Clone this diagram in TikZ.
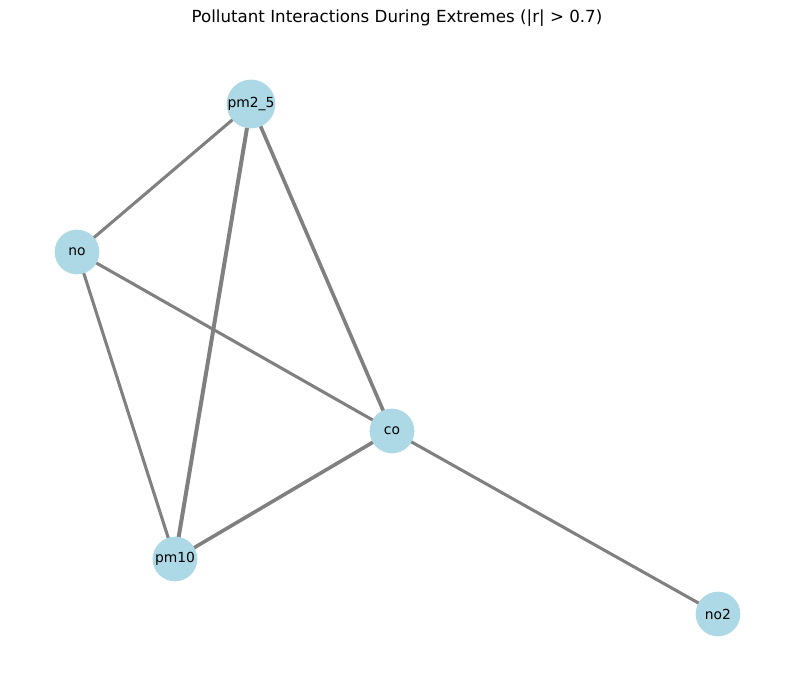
\documentclass[tikz,border=0pt]{standalone}
\usepackage{fontspec}
\setmainfont{DejaVu Sans}
\definecolor{nodeblue}{HTML}{ADD8E6}
\definecolor{edgegray}{HTML}{808080}
\begin{document}
\begin{tikzpicture}[x=0.75pt,y=-0.75pt,
  vtx/.style={circle,fill=nodeblue,minimum size=33.5pt,inner sep=0pt,font=\fontsize{10.4}{12}\selectfont},
  edg/.style={draw=edgegray,line width=2.3pt},
  edgthick/.style={draw=edgegray,line width=2.7pt},
  edgthickest/.style={draw=edgegray,line width=3pt}]
\useasboundingbox (0,0) rectangle (794,677);
\node[font=\fontsize{12.5}{15}\selectfont] (title) at (397,18) {Pollutant Interactions During Extremes (|r| > 0.7)};
\coordinate (cpm25) at (251,104);
\coordinate (cno) at (77,252);
\coordinate (cco) at (392,431);
\coordinate (cpm10) at (175,559);
\coordinate (cno2) at (718,614);
\draw[edg] (cpm25) -- (cno);
\draw[edgthickest] (cpm25) -- (cpm10);
\draw[edgthick] (cpm25) -- (cco);
\draw[edg] (cno) -- (cco);
\draw[edg] (cno) -- (cpm10);
\draw[edgthick] (cco) -- (cpm10);
\draw[edg] (cco) -- (cno2);
\node[vtx] (pm25) at (cpm25) {pm2\_5};
\node[vtx] (no) at (cno) {no};
\node[vtx] (co) at (cco) {co};
\node[vtx] (pm10) at (cpm10) {pm10};
\node[vtx] (no2) at (cno2) {no2};
\end{tikzpicture}
\end{document}
